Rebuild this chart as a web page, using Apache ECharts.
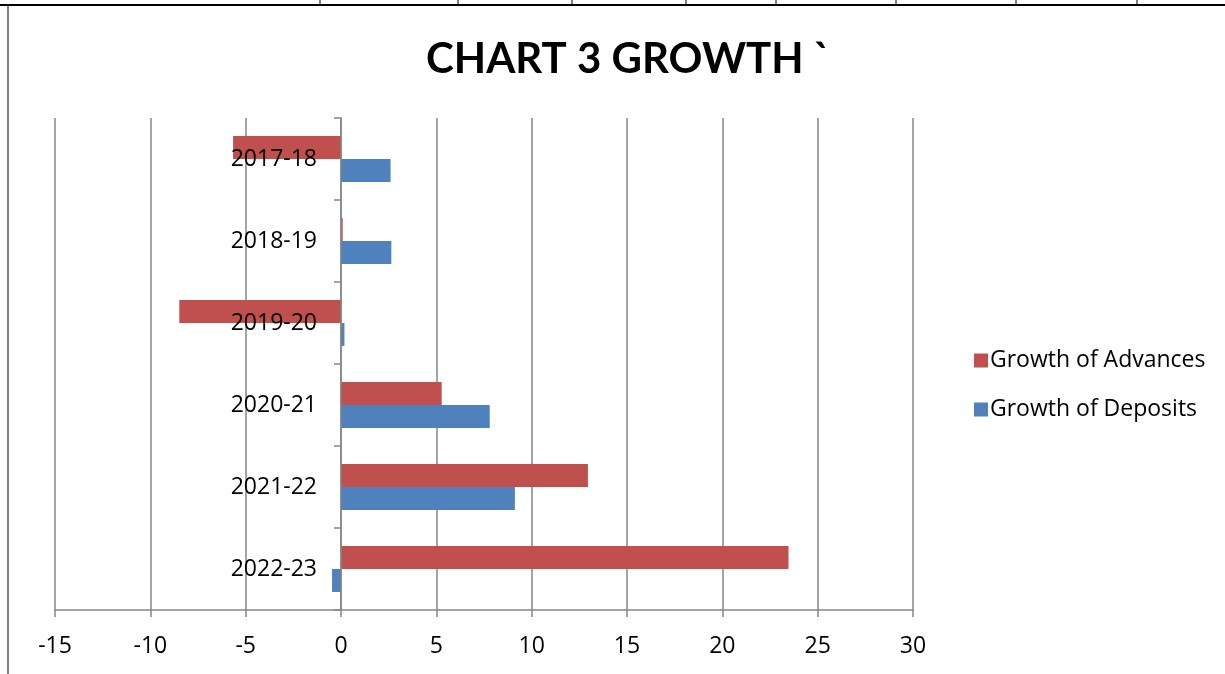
<!DOCTYPE html>
<html>
<head>
<meta charset="utf-8">
<script src="https://cdn.jsdelivr.net/npm/echarts@6/dist/echarts.min.js"></script>
<style>
html,body{margin:0;padding:0;background:#fff;}
#c{width:1225px;height:674px;}
</style>
</head>
<body>
<div id="c"></div>
<script>
var categories = ['2017-18','2018-19','2019-20','2020-21','2021-22','2022-23'];
var advances = [-5.66, 0.09, -8.48, 5.28, 12.95, 23.47];
var deposits = [2.6, 2.64, 0.18, 7.8, 9.12, -0.47];
var xTicks = {min: -15, max: 30, interval: 5};

var FONT = '"Open Sans", Lato, sans-serif';
var TFONT = 'Lato, "Open Sans", sans-serif';
var chart = echarts.init(document.getElementById('c'));
chart.setOption({
  backgroundColor: '#fff',
  animation: false,
  title: {
    text: 'CHART 3 GROWTH `',
    left: 421,
    top: 33,
    textStyle: {fontFamily: TFONT, fontSize: 42, fontWeight: 'bold', color: '#000'}
  },
  legend: {
    orient: 'vertical',
    left: 969,
    top: 344,
    itemWidth: 14,
    itemHeight: 14,
    itemGap: 26,
    icon: 'rect',
    textStyle: {fontFamily: FONT, fontSize: 23, color: '#000', padding: [0,0,0,-3]},
    data: ['Growth of Advances','Growth of Deposits']
  },
  grid: {left: 55, right: 312, top: 118, bottom: 64, containLabel: false, outerBoundsMode: 'none'},
  xAxis: {
    type: 'value',
    min: xTicks.min, max: xTicks.max, interval: xTicks.interval,
    axisLine: {show: true, onZero: false, lineStyle: {color: '#868686', width: 1.5}},
    axisTick: {show: true, length: 7, lineStyle: {color: '#868686', width: 1.5}},
    axisLabel: {fontFamily: FONT, fontSize: 23, color: '#000', margin: 25},
    splitLine: {show: true, lineStyle: {color: '#868686', width: 1.5}}
  },
  yAxis: {
    type: 'category',
    data: categories,
    inverse: true,
    offset: -286,
    axisLine: {show: true, onZero: false, lineStyle: {color: '#868686', width: 1.5}},
    axisTick: {show: true, length: 7, lineStyle: {color: '#868686', width: 1.5}},
    axisLabel: {fontFamily: FONT, fontSize: 23, color: '#000', margin: 24, padding: [4,0,0,0]},
    z: 5
  },
  series: [
    {
      name: 'Growth of Advances', type: 'bar', data: advances,
      itemStyle: {color: '#C0504D'},
      barGap: '0%', barCategoryGap: '44%'
    },
    {
      name: 'Growth of Deposits', type: 'bar', data: deposits,
      itemStyle: {color: '#4F81BD'},
      barGap: '0%', barCategoryGap: '44%'
    }
  ],
  graphic: [
    {type: 'line', shape: {x1: 0, y1: 5, x2: 1225, y2: 5}, style: {stroke: '#000', lineWidth: 2}},
    {type: 'line', shape: {x1: 8, y1: 6, x2: 8, y2: 674}, style: {stroke: '#808080', lineWidth: 2}},
    {type: 'line', shape: {x1: 320, y1: 0, x2: 320, y2: 5}, style: {stroke: '#000', lineWidth: 1}},
    {type: 'line', shape: {x1: 458, y1: 0, x2: 458, y2: 5}, style: {stroke: '#000', lineWidth: 1}},
    {type: 'line', shape: {x1: 572, y1: 0, x2: 572, y2: 5}, style: {stroke: '#000', lineWidth: 1}},
    {type: 'line', shape: {x1: 686, y1: 0, x2: 686, y2: 5}, style: {stroke: '#000', lineWidth: 1}},
    {type: 'line', shape: {x1: 776, y1: 0, x2: 776, y2: 5}, style: {stroke: '#000', lineWidth: 1}},
    {type: 'line', shape: {x1: 896, y1: 0, x2: 896, y2: 5}, style: {stroke: '#000', lineWidth: 1}},
    {type: 'line', shape: {x1: 1016, y1: 0, x2: 1016, y2: 5}, style: {stroke: '#000', lineWidth: 1}},
    {type: 'line', shape: {x1: 1137, y1: 0, x2: 1137, y2: 5}, style: {stroke: '#000', lineWidth: 1}}
  ]
});
</script>
</body>
</html>
